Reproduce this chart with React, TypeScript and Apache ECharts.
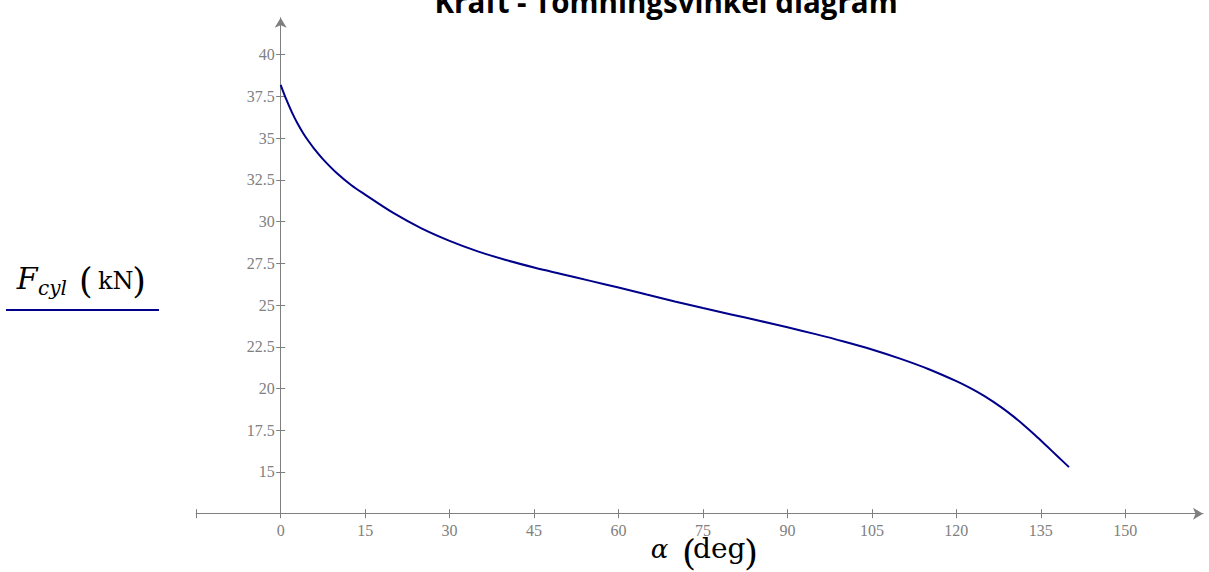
import React, { useEffect, useRef } from "react";
import * as echarts from "echarts";

const TITLE = "Kraft - Tömningsvinkel diagram";

const alphaDeg = [0, 1, 2, 3, 4, 5, 6, 7.5, 10, 12.5, 15, 20, 25, 30, 35, 40, 45, 50, 55, 60, 65, 70, 75, 80, 85, 90, 95, 100, 105, 110, 115, 120, 122.5, 125, 128, 130, 132, 134, 136, 138, 140];
const forceKN = [38.2, 37.32, 36.55, 35.88, 35.3, 34.8, 34.35, 33.75, 32.9, 32.2, 31.62, 30.52, 29.6, 28.85, 28.22, 27.7, 27.25, 26.85, 26.45, 26.05, 25.63, 25.22, 24.82, 24.44, 24.06, 23.67, 23.26, 22.82, 22.34, 21.79, 21.17, 20.44, 20.02, 19.54, 18.87, 18.36, 17.8, 17.2, 16.57, 15.93, 15.29];

const xLabelValues = [0, 15, 30, 45, 60, 75, 90, 105, 120, 135, 150];
const xTickValues = [-15, 0, 15, 30, 45, 60, 75, 90, 105, 120, 135, 150];
const yLabelValues = [15, 17.5, 20, 22.5, 25, 27.5, 30, 32.5, 35, 37.5, 40];

const AXIS = "#7f7f7f";
const LABEL = "#808080";
const CURVE = "#00008b";
const SERIF = '"DejaVu Serif"';

export default function App() {
  const ref = useRef<HTMLDivElement>(null);
  useEffect(() => {
    if (!ref.current) return;
    const chart = echarts.init(ref.current, undefined, { renderer: "svg" });
    const gridLeft = 196.2;
    const gridRight = 6;
    const xMin = -15;
    const xMax = 163.8;
    const pxPerDeg = (1209 - gridRight - gridLeft) / (xMax - xMin);
    const yOffset = -(0 - xMin) * pxPerDeg;
    const gridBox = { left: gridLeft, right: gridRight, top: 17.7, bottom: 58.3 };
    const xCommon = { type: "value", min: xMin, max: xMax, interval: 15, splitLine: { show: false } };
    const yCommon = { type: "value", min: 12.5, max: 42.22, interval: 2.5, splitLine: { show: false }, position: "left", offset: yOffset };
    const option: any = {
      animation: false,
      grid: [{ ...gridBox }, { ...gridBox }],
      xAxis: [
        {
          ...xCommon,
          gridIndex: 0,
          axisLine: { show: true, onZero: false, lineStyle: { color: AXIS, width: 1 }, symbol: ["none", "arrow"], symbolSize: [9, 10] },
          axisTick: { show: true, length: 4.5, lineStyle: { color: AXIS }, customValues: xTickValues },
          axisLabel: { customValues: xLabelValues, color: LABEL, fontFamily: "Liberation Serif", fontSize: 16, margin: 9 },
        },
        {
          ...xCommon,
          gridIndex: 1,
          axisLine: { show: false, onZero: false },
          axisTick: { show: true, inside: true, length: 4.5, lineStyle: { color: AXIS }, customValues: xTickValues },
          axisLabel: { show: false },
        },
      ],
      yAxis: [
        {
          ...yCommon,
          gridIndex: 0,
          axisLine: { show: true, onZero: false, lineStyle: { color: AXIS, width: 1 }, symbol: ["none", "arrow"], symbolSize: [9, 10] },
          axisTick: { show: true, length: 4.5, lineStyle: { color: AXIS }, customValues: yLabelValues },
          axisLabel: { customValues: yLabelValues, color: LABEL, fontFamily: "Liberation Serif", fontSize: 16, margin: 6 },
        },
        {
          ...yCommon,
          gridIndex: 1,
          axisLine: { show: false, onZero: false },
          axisTick: { show: true, inside: true, length: 4.5, lineStyle: { color: AXIS }, customValues: yLabelValues },
          axisLabel: { show: false },
        },
      ],
      series: [
        {
          type: "line",
          xAxisIndex: 0,
          yAxisIndex: 0,
          data: alphaDeg.map((a, i) => [a, forceKN[i]]),
          smooth: 0.35,
          showSymbol: false,
          symbol: "none",
          lineStyle: { color: CURVE, width: 2 },
        },
      ],
      graphic: [
        {
          type: "text",
          x: 666,
          y: 1.8,
          style: { text: TITLE, fontFamily: '"Open Sans"', fontWeight: "bold", fontSize: 29.5, fill: "#000", align: "center", verticalAlign: "middle" },
        },
        // legend label F_cyl (kN)
        { type: "text", x: 16.7, y: 278.9, style: { text: "F", fontFamily: SERIF, fontStyle: "italic", fontSize: 30, fill: "#000", align: "left", verticalAlign: "middle" } },
        { type: "text", x: 38, y: 287.6, style: { text: "cyl", fontFamily: SERIF, fontStyle: "italic", fontSize: 20, fill: "#000", align: "left", verticalAlign: "middle" } },
        { type: "text", x: 79, y: 280.5, style: { text: "(", fontFamily: SERIF, fontSize: 35, fill: "#000", align: "left", verticalAlign: "middle" } },
        { type: "text", x: 98, y: 281, style: { text: "kN", fontFamily: SERIF, fontSize: 24, fill: "#000", align: "left", verticalAlign: "middle" } },
        { type: "text", x: 146, y: 280.5, style: { text: ")", fontFamily: SERIF, fontSize: 35, fill: "#000", align: "right", verticalAlign: "middle" } },
        { type: "line", shape: { x1: 6, y1: 310, x2: 159, y2: 310 }, style: { stroke: CURVE, lineWidth: 2 } },
        // x axis name alpha (deg)
        { type: "text", x: 650.7, y: 549, style: { text: "α", fontFamily: SERIF, fontStyle: "italic", fontSize: 26, fill: "#000", align: "left", verticalAlign: "middle" } },
        { type: "text", x: 682, y: 552, style: { text: "(", fontFamily: SERIF, fontSize: 36, fill: "#000", align: "left", verticalAlign: "middle" } },
        { type: "text", x: 693, y: 548.3, style: { text: "deg", fontFamily: SERIF, fontSize: 28, fill: "#000", align: "left", verticalAlign: "middle" } },
        { type: "text", x: 758, y: 552, style: { text: ")", fontFamily: SERIF, fontSize: 36, fill: "#000", align: "right", verticalAlign: "middle" } },
      ],
    };
    chart.setOption(option);
    return () => chart.dispose();
  }, []);
  return <div ref={ref} style={{ position: "fixed", left: 0, top: 0, width: 1209, height: 572, background: "#fff" }} />;
}
